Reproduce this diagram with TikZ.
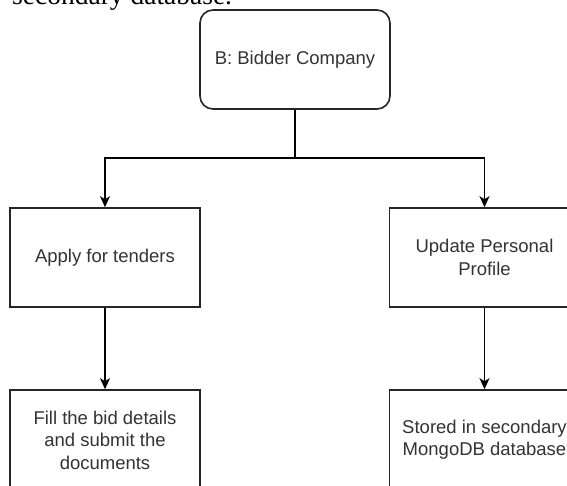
\documentclass[tikz,border=0pt]{standalone}
\usepackage{fontspec}
\setmainfont{Liberation Sans}
\newfontfamily\serifbody{Liberation Serif}
\usetikzlibrary{arrows.meta}
\definecolor{txtgray}{HTML}{333333}
\begin{document}
\begin{tikzpicture}[x=1pt,y=-1pt,
  boxstyle/.style={draw=black!85, line width=1.6pt, fill=white, inner sep=0pt,
    minimum width=190pt, minimum height=99pt, align=center,
    text=txtgray, font=\fontsize{18.5}{22.4}\selectfont},
  roundbox/.style={boxstyle, rounded corners=13pt},
  conn/.style={draw=black, line width=1.6pt},
  arr/.style={conn, -{Stealth[length=11pt,width=10pt,inset=3pt]}}
]
\useasboundingbox (0,0) rectangle (567,486);
\clip (0,0) rectangle (567,486);
\node[anchor=base west, inner sep=0pt, font=\serifbody\fontsize{27.5}{32}\selectfont] (cap) at (12,4.5) {secondary database.};
\node[roundbox] (top) at (295,59.5) {B: Bidder Company};
\node[boxstyle] (apply) at (105,257.5) {Apply for tenders};
\node[boxstyle] (update) at (484.5,257.5) {Update Personal\\Profile};
\node[boxstyle, minimum height=100pt] (fill) at (105,440) {Fill the bid details\\and submit the\\documents};
\node[boxstyle, minimum height=100pt] (stored) at (484.5,440) {Stored in secondary\\MongoDB database};
\coordinate (hub) at (295,158.3);
\draw[conn] (top.south) -- (hub);
\draw[arr] (hub) -| (apply.north);
\draw[arr] (hub) -| (update.north);
\draw[arr] (apply.south) -- (fill.north);
\draw[arr] (update.south) -- (stored.north);
\end{tikzpicture}
\end{document}
